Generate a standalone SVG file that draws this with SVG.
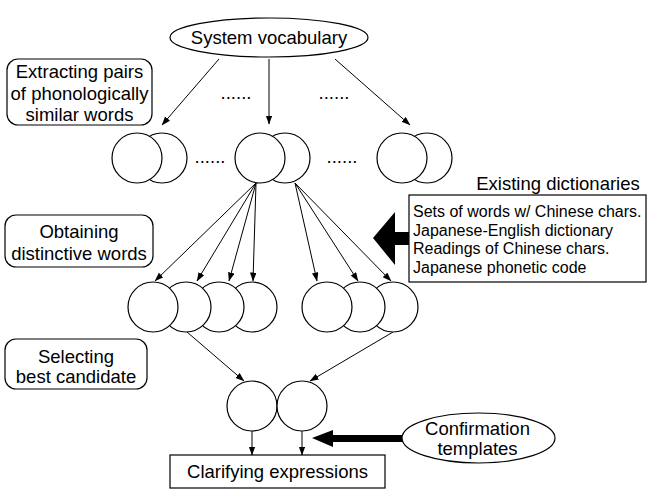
<svg xmlns="http://www.w3.org/2000/svg" width="647" height="494" viewBox="0 0 647 494">
<style>
text{font-family:"Liberation Sans",Arial,sans-serif;font-size:18.5px;fill:#000;text-anchor:middle}
.s{font-size:16px;text-anchor:start}
.c{fill:#fff;stroke:#000;stroke-width:1.2}
.b{fill:#fff;stroke:#000;stroke-width:1.2}
.l{stroke:#000;stroke-width:1;fill:none;marker-end:url(#ah)}
.big{fill:#000;stroke:none}
</style>
<defs>
<marker id="ah" markerUnits="userSpaceOnUse" markerWidth="9" markerHeight="7" refX="8.5" refY="3.25" orient="auto">
<path d="M0,0 L9,3.25 L0,6.5 z" fill="#000"/>
</marker>
</defs>
<rect width="647" height="494" fill="#fff"/>
<g id="connectors">
<line class="l" x1="219" y1="59" x2="162" y2="125"/>
<line class="l" x1="269" y1="59" x2="269" y2="124"/>
<line class="l" x1="335" y1="59" x2="410" y2="125"/>
<line class="l" x1="256" y1="183" x2="155" y2="281"/>
<line class="l" x1="256" y1="183" x2="197" y2="281"/>
<line class="l" x1="256" y1="183" x2="229" y2="281"/>
<line class="l" x1="256" y1="183" x2="253" y2="281"/>
<line class="l" x1="295" y1="183" x2="317" y2="281"/>
<line class="l" x1="295" y1="183" x2="358" y2="281"/>
<line class="l" x1="295" y1="183" x2="391" y2="281"/>
<line class="l" x1="187" y1="332" x2="244" y2="381"/>
<line class="l" x1="393" y1="332" x2="310" y2="381"/>
<line class="l" x1="252" y1="431" x2="252" y2="455"/>
<line class="l" x1="302" y1="431" x2="302" y2="455"/>
<polygon class="big" points="373,238 395,212 395,232 409,232 409,245 395,245 395,265"/>
<polygon class="big" points="312,438 333,430 333,435 403,435 403,442 333,442 333,447"/>
</g>
<g id="system-vocabulary">
<ellipse class="b" cx="269" cy="37.5" rx="99" ry="19.5"/>
<text x="269" y="44">System vocabulary</text>
</g>
<g id="extracting">
<rect class="b" x="7" y="59" width="145" height="66" rx="11"/>
<text x="79.5" y="78">Extracting pairs</text>
<text x="79.5" y="99.5">of phonologically</text>
<text x="79.5" y="121">similar words</text>
</g>
<g id="dots">
<text x="236" y="99">......</text>
<text x="334" y="99">......</text>
<text x="210" y="163">......</text>
<text x="342" y="163">......</text>
</g>
<g id="pair-1">
<circle class="c" cx="162" cy="158" r="25"/>
<circle class="c" cx="137" cy="158" r="25"/>
</g>
<g id="pair-2">
<circle class="c" cx="285" cy="158" r="25"/>
<circle class="c" cx="260" cy="158" r="25"/>
</g>
<g id="pair-3">
<circle class="c" cx="427" cy="158" r="25"/>
<circle class="c" cx="402" cy="158" r="25"/>
</g>
<g id="obtaining">
<rect class="b" x="5" y="215" width="148" height="52" rx="11"/>
<text x="79" y="238">Obtaining</text>
<text x="79" y="260">distinctive words</text>
</g>
<g id="existing-dictionaries">
<text x="558" y="190">Existing dictionaries</text>
<rect class="b" x="409" y="195" width="237" height="87"/>
<text class="s" x="413" y="216.5">Sets of words w/ Chinese chars.</text>
<text class="s" x="413" y="235.5">Japanese-English dictionary</text>
<text class="s" x="413" y="254">Readings of Chinese chars.</text>
<text class="s" x="413" y="272.5">Japanese phonetic code</text>
</g>
<g id="group-left">
<circle class="c" cx="252" cy="307" r="25"/>
<circle class="c" cx="219" cy="307" r="25"/>
<circle class="c" cx="186" cy="307" r="25"/>
<circle class="c" cx="153" cy="307" r="25"/>
</g>
<g id="group-right">
<circle class="c" cx="393" cy="307" r="25"/>
<circle class="c" cx="360" cy="307" r="25"/>
<circle class="c" cx="327" cy="307" r="25"/>
</g>
<g id="selecting">
<rect class="b" x="5" y="339" width="142" height="50" rx="11"/>
<text x="76" y="362.5">Selecting</text>
<text x="76" y="383">best candidate</text>
</g>
<g id="best">
<circle class="c" cx="252" cy="406" r="25"/>
<circle class="c" cx="302" cy="406" r="25"/>
</g>
<g id="confirmation">
<ellipse class="b" cx="478.5" cy="438" rx="76.5" ry="25"/>
<text x="477.5" y="435">Confirmation</text>
<text x="477.5" y="455">templates</text>
</g>
<g id="clarifying">
<rect class="b" x="170" y="455" width="215" height="33"/>
<text x="277.5" y="478">Clarifying expressions</text>
</g>
</svg>
